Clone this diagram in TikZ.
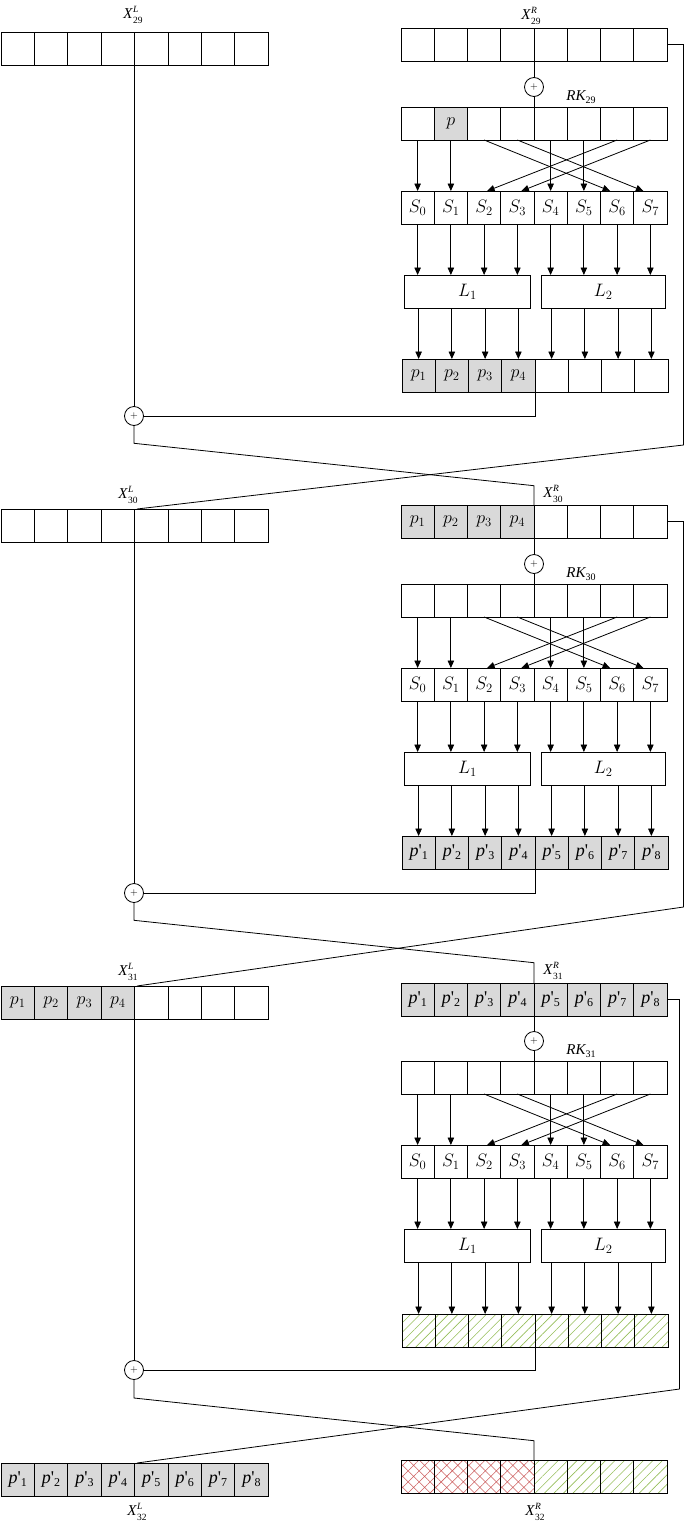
\RequirePackage{fix-cm}
\documentclass[tikz,border=0pt]{standalone}
\usepackage{fontspec}
\newfontfamily\tms{Liberation Serif}
\usetikzlibrary{arrows.meta,patterns.meta}
\definecolor{cellgray}{RGB}{217,217,217}
\definecolor{hgreen}{RGB}{150,190,90}
\definecolor{hred}{RGB}{205,95,95}
\newcommand{\pq}[1]{{\tms\itshape p}{\tms'}\raisebox{-3pt}{\tms\fontsize{12}{12}\selectfont #1}}
\newcommand{\xl}[2]{{\tms\fontsize{15}{18}\selectfont\itshape X\kern0.5pt\rlap{\raisebox{6.5pt}{\fontsize{9.5}{9.5}\selectfont #1}}\raisebox{-4.8pt}{\fontsize{9.5}{9.5}\selectfont\upshape #2}}}
\newcommand{\rkl}[1]{{\tms\fontsize{15}{18}\selectfont\itshape RK\raisebox{-3.5pt}{\fontsize{10}{12}\selectfont\upshape #1}}}
\newcommand{\reg}[5]{\foreach \st/\tx [count=\k from 0] in {#5} {\node[cell,\st,minimum width=#4pt] (#1-\k) at ({#2+#4*\k},#3) {\tx};}}
\tikzset{
  cell/.style={draw,line width=0.8pt,minimum height=33pt,inner sep=0pt,outer sep=0pt,anchor=north west,font=\fontsize{18}{21}\selectfont},
  wc/.style={},
  gc/.style={fill=cellgray},
  hg/.style={pattern={Lines[angle=45,distance=6.7pt,line width=0.6pt]},pattern color=hgreen},
  hr/.style={pattern={Hatch[angle=45,distance=7.8pt,line width=0.55pt]},pattern color=hred},
  lbox/.style={draw,line width=0.8pt,minimum height=33pt,inner sep=0pt,outer sep=0pt,font=\fontsize{18}{21}\selectfont},
  xorc/.style={draw,circle,line width=0.8pt,minimum size=19pt,inner sep=0pt,outer sep=0pt,font=\fontsize{10}{10}\selectfont},
  lab/.style={inner sep=0pt},
  arr/.style={-{Triangle[length=7.5pt,width=6.5pt]}},
  wire/.style={line width=0.8pt}
}
\begin{document}
\begin{tikzpicture}[x=1pt,y=-1pt,line width=0.8pt]
\useasboundingbox (0,0) rectangle (685,1526);
% registers
\reg{XL29}{1}{32}{33.4}{wc/{},wc/{},wc/{},wc/{},wc/{},wc/{},wc/{},wc/{}}
\reg{XR29}{401}{28}{33.25}{wc/{},wc/{},wc/{},wc/{},wc/{},wc/{},wc/{},wc/{}}
\reg{RK29}{401}{107}{33.25}{wc/{},gc/$p$,wc/{},wc/{},wc/{},wc/{},wc/{},wc/{}}
\reg{O29}{402}{359}{33.25}{gc/$p_1$,gc/$p_2$,gc/$p_3$,gc/$p_4$,wc/{},wc/{},wc/{},wc/{}}
\reg{XL30}{1}{509}{33.4}{wc/{},wc/{},wc/{},wc/{},wc/{},wc/{},wc/{},wc/{}}
\reg{XR30}{401}{505}{33.25}{gc/$p_1$,gc/$p_2$,gc/$p_3$,gc/$p_4$,wc/{},wc/{},wc/{},wc/{}}
\reg{RK30}{401}{584}{33.25}{wc/{},wc/{},wc/{},wc/{},wc/{},wc/{},wc/{},wc/{}}
\reg{O30}{402}{836}{33.25}{gc/\pq{1},gc/\pq{2},gc/\pq{3},gc/\pq{4},gc/\pq{5},gc/\pq{6},gc/\pq{7},gc/\pq{8}}
\reg{XL31}{1}{986}{33.4}{gc/$p_1$,gc/$p_2$,gc/$p_3$,gc/$p_4$,wc/{},wc/{},wc/{},wc/{}}
\reg{XR31}{401}{983}{33.25}{gc/\pq{1},gc/\pq{2},gc/\pq{3},gc/\pq{4},gc/\pq{5},gc/\pq{6},gc/\pq{7},gc/\pq{8}}
\reg{RK31}{401}{1061}{33.25}{wc/{},wc/{},wc/{},wc/{},wc/{},wc/{},wc/{},wc/{}}
\reg{O31}{402}{1314}{33.25}{hg/{},hg/{},hg/{},hg/{},hg/{},hg/{},hg/{},hg/{}}
\reg{XL32}{1}{1463}{33.4}{gc/\pq{1},gc/\pq{2},gc/\pq{3},gc/\pq{4},gc/\pq{5},gc/\pq{6},gc/\pq{7},gc/\pq{8}}
\reg{XR32}{401}{1460}{33.25}{hr/{},hr/{},hr/{},hr/{},hg/{},hg/{},hg/{},hg/{}}
% labels
\node[lab] (xl29) at (133,15) {\xl{L}{29}};
\node[lab] (xr29) at (531,16) {\xl{R}{29}};
\node[lab] (xl30) at (128,495) {\xl{L}{30}};
\node[lab] (xr30) at (553,494) {\xl{R}{30}};
\node[lab] (xl31) at (128,972) {\xl{L}{31}};
\node[lab] (xr31) at (553,971) {\xl{R}{31}};
\node[lab] (xl32) at (137,1512) {\xl{L}{32}};
\node[lab] (xr32) at (535,1512) {\xl{R}{32}};
% crossing coordinates
\coordinate (lb29) at (134,443.3); \coordinate (rt29) at (534,485.7);
\coordinate (rc29) at (683.5,445); \coordinate (lt29) at (137,509);
\coordinate (lb30) at (134,920.3); \coordinate (rt30) at (534,962.7);
\coordinate (rc30) at (683.5,907); \coordinate (lt30) at (137,986);
\coordinate (lb31) at (134,1398); \coordinate (rt31) at (534,1440.7);
\coordinate (rc31) at (679.5,1389); \coordinate (lt31) at (137,1463);
% rounds
\foreach \r/\d in {29/0,30/477,31/954} {
  \pgfmathtruncatemacro\n{\r+1}
  \node[xorc] (rx\r) at (534,{87+\d}) {$+$};
  \node[xorc] (lx\r) at (134,{416+\d}) {$+$};
  \node[lab] (rkl\r) at (581,{97+\d}) {\rkl{\r}};
  \foreach \i in {0,...,7}
    \node[cell,minimum width=33.25pt] (S\r-\i) at ({401+33.25*\i},{191+\d}) {$S_\i$};
  \node[lbox,minimum width=126.4pt] (La\r) at (467.5,{291.5+\d}) {$L_1$};
  \node[lbox,minimum width=123.7pt] (Lb\r) at (603.15,{291.5+\d}) {$L_2$};
  % key addition
  \draw[wire] (XR\r-3.south east) -- (rx\r.north);
  \draw[wire] (rx\r.south) -- (rx\r.south |- RK\r-3.north east);
  % permutation into S-boxes
  \foreach \i in {0,1,4,5}
    \draw[wire,arr] (RK\r-\i.south) -- (S\r-\i.north);
  \draw[wire,arr] (RK\r-2.south) -- ([xshift=-7pt]S\r-6.north);
  \draw[wire,arr] (RK\r-3.south) -- ([xshift=-7pt]S\r-7.north);
  \draw[wire,arr] (RK\r-6.south) -- ([xshift=3pt]S\r-2.north);
  \draw[wire,arr] (RK\r-7.south) -- ([xshift=4pt]S\r-3.north);
  % S to L
  \foreach \i in {0,...,3}
    \draw[wire,arr] (S\r-\i.south) -- (S\r-\i.south |- La\r.north);
  \foreach \i in {4,...,7}
    \draw[wire,arr] (S\r-\i.south) -- (S\r-\i.south |- Lb\r.north);
  % L to output
  \foreach \i in {0,...,3}
    \draw[wire,arr] (O\r-\i.north |- La\r.south) -- (O\r-\i.north);
  \foreach \i in {4,...,7}
    \draw[wire,arr] (O\r-\i.north |- Lb\r.south) -- (O\r-\i.north);
  % output to left xor
  \draw[wire] (O\r-3.south east) |- (lx\r.east);
  \draw[wire] (lx\r.north |- XL\r-3.south) -- (lx\r.north);
  % swap
  \draw[wire] (lx\r.south) -- (lx\r.south |- lb\r) -- (rt\r) -- (XR\n-3.north east);
  \draw[wire] (XR\r-7.east) -- (XR\r-7.east -| rc\r) -- (rc\r) -- (lt\r);
}
\end{tikzpicture}
\end{document}
